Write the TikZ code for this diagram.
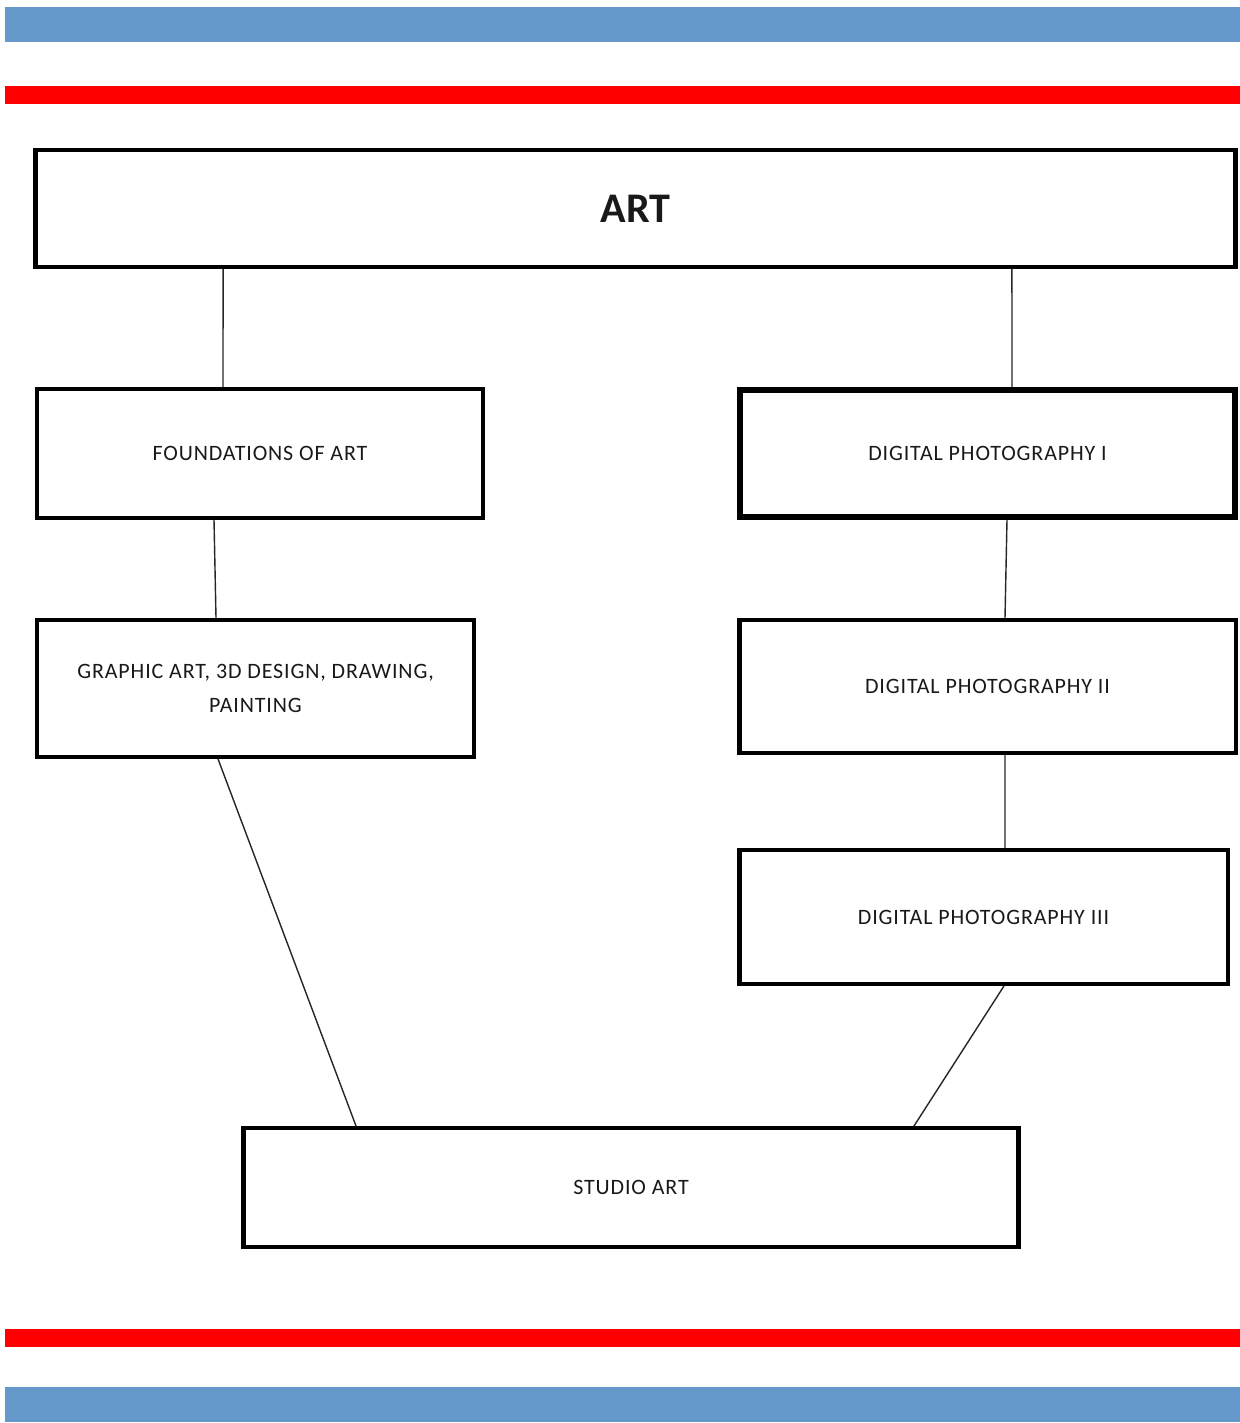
\documentclass[tikz,border=0pt]{standalone}
\usepackage{fontspec}
\setmainfont{Carlito}
\usetikzlibrary{positioning}

\definecolor{bandblue}{HTML}{6598CB}
\definecolor{bandred}{HTML}{FF0000}

\tikzset{
  course/.style={draw,rectangle,line width=2.5pt,inner sep=0pt,align=center,
    font=\fontsize{12.5}{19}\selectfont\addfontfeature{LetterSpace=4},text=black!90},
  link/.style={line width=0.8pt,draw=black!85}
}

\begin{document}
\begin{tikzpicture}[x=0.02cm,y=-0.02cm]

            \useasboundingbox (0,0) rectangle (1240,1423);

            % stripes top and bottom
            \fill[bandblue] (5,7) rectangle (1240,42);
            \fill[bandred] (5,86) rectangle (1240,104);
            \fill[bandred] (5,1329) rectangle (1240,1347);
            \fill[bandblue] (5,1387) rectangle (1240,1422);

            \node[course,minimum width=24.01cm,minimum height=2.33cm,
                  font=\fontsize{24}{28}\selectfont\bfseries] (art) at (635.5,208.5) {ART};

            \node[course,minimum width=8.91cm,minimum height=2.57cm] (found) at (260,453.5) {FOUNDATIONS OF ART};
            \node[course,minimum width=8.73cm,minimum height=2.73cm] (graphic) at (255.5,688.5)
                  {GRAPHIC ART, 3D DESIGN, DRAWING,\\ PAINTING};

            \node[course,line width=3.2pt,minimum width=9.9cm,minimum height=2.54cm] (dp1) at (987.5,453.5) {DIGITAL PHOTOGRAPHY I};
            \node[course,minimum width=9.93cm,minimum height=2.65cm] (dp2) at (987.5,686.5) {DIGITAL PHOTOGRAPHY II};
            \node[course,minimum width=9.77cm,minimum height=2.67cm] (dp3) at (983.5,917) {DIGITAL PHOTOGRAPHY III};

            \node[course,minimum width=15.51cm,minimum height=2.37cm] (studio) at (631,1187.5) {STUDIO ART};

            \path[link] ([xshift=-8.25cm]art.south) edge ([xshift=-0.74cm]found.north)
                        ([xshift=7.53cm]art.south) edge ([xshift=0.49cm]dp1.north)
                        ([xshift=-0.92cm]found.south) edge ([xshift=-0.79cm]graphic.north)
                        ([xshift=0.39cm]dp1.south) edge ([xshift=0.35cm]dp2.north)
                        ([xshift=0.35cm]dp2.south) edge ([xshift=0.43cm]dp3.north)
                        ([xshift=-0.75cm]graphic.south) edge ([xshift=-5.5cm]studio.north)
                        ([xshift=0.41cm]dp3.south) edge ([xshift=5.66cm]studio.north);

        \end{tikzpicture}
\end{document}
